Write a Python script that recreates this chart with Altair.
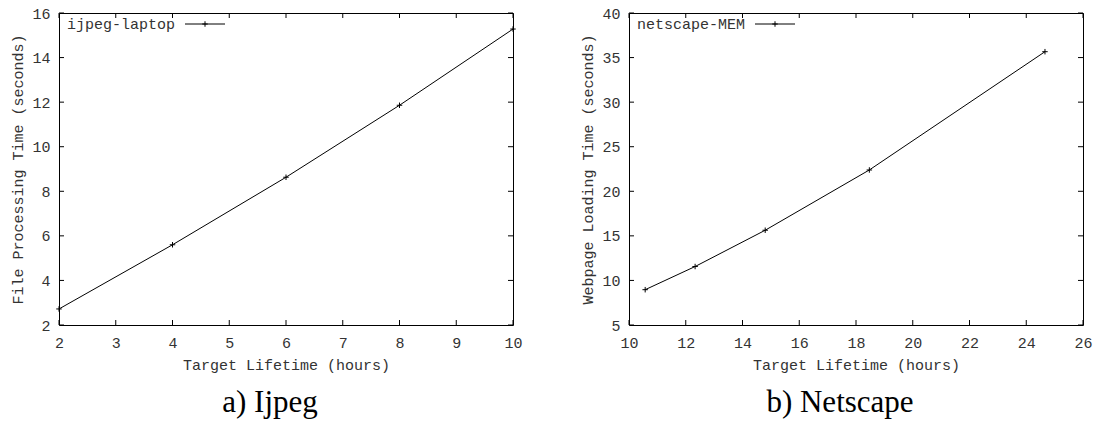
import altair as alt
import pandas as pd

# ---- data ----
ijpeg_lifetime = [2, 4, 6, 8, 10]
ijpeg_time = [2.72, 5.60, 8.63, 11.86, 15.28]

netscape_lifetime = [10.57, 12.33, 14.80, 18.47, 24.66]
netscape_time = [8.96, 11.56, 15.63, 22.39, 35.66]

ijpeg_xticks = [2, 3, 4, 5, 6, 7, 8, 9, 10]
ijpeg_yticks = [2, 4, 6, 8, 10, 12, 14, 16]
netscape_xticks = [10, 12, 14, 16, 18, 20, 22, 24, 26]
netscape_yticks = [5, 10, 15, 20, 25, 30, 35, 40]

# ---- styling ----
W, H = 454, 312
MONO = "Liberation Mono"
SERIF = "Liberation Serif"
TXT = "#333333"
TICK = 5
PLUS = "M-1,0L1,0M0,-1L0,1"


def panel(xs, ys, xticks, yticks, xtitle, ytitle, key, caption):
    xscale = alt.Scale(domain=[xticks[0], xticks[-1]], nice=False, zero=False)
    yscale = alt.Scale(domain=[yticks[0], yticks[-1]], nice=False, zero=False)
    df = pd.DataFrame({"x": xs, "y": ys})

    xaxis = alt.Axis(
        values=xticks, title=xtitle, format="d", domain=False, ticks=False,
        grid=False, labelPadding=10, labelFont=MONO, labelFontSize=15,
        labelColor=TXT, labelFlush=False, labelOverlap=False,
        titleFont=MONO, titleFontSize=15, titleFontWeight="normal",
        titleColor=TXT, titleBaseline="alphabetic", titleY=44,
    )
    yaxis = alt.Axis(
        values=yticks, title=ytitle, format="d", domain=False, ticks=False,
        grid=False, labelPadding=9, labelFont=MONO, labelFontSize=15,
        labelColor=TXT, labelFlush=False, labelOverlap=False,
        titleFont=MONO, titleFontSize=15, titleFontWeight="normal",
        titleColor=TXT, titleBaseline="alphabetic", titleX=-37, titleY=H / 2,
        titleAngle=270,
    )
    xenc = alt.X("x:Q", scale=xscale, axis=xaxis)
    yenc = alt.Y("y:Q", scale=yscale, axis=yaxis)

    base = alt.Chart(df).encode(x=xenc, y=yenc)
    line = base.mark_line(color="black", strokeWidth=1)
    pts = base.mark_point(shape=PLUS, size=30, color="black", filled=False,
                          strokeWidth=1, opacity=1)

    xt = pd.DataFrame({"x": xticks})
    yt = pd.DataFrame({"y": yticks})
    t_bottom = alt.Chart(xt).mark_rule(color="black").encode(
        x=xenc, y=alt.value(H), y2=alt.value(H - TICK))
    t_top = alt.Chart(xt).mark_rule(color="black").encode(
        x=xenc, y=alt.value(0), y2=alt.value(TICK))
    t_left = alt.Chart(yt).mark_rule(color="black").encode(
        y=yenc, x=alt.value(0), x2=alt.value(TICK))
    t_right = alt.Chart(yt).mark_rule(color="black").encode(
        y=yenc, x=alt.value(W), x2=alt.value(W - TICK))

    kdf = pd.DataFrame({"label": [key]})
    k_text = alt.Chart(kdf).mark_text(
        align="left", baseline="alphabetic", font=MONO, fontSize=15, color=TXT
    ).encode(text="label:N", x=alt.value(8), y=alt.value(16))
    k_line = alt.Chart(kdf).mark_rule(color="black", strokeWidth=1).encode(
        x=alt.value(126), x2=alt.value(166), y=alt.value(11))
    k_pt = alt.Chart(kdf).mark_point(
        shape=PLUS, size=30, color="black", filled=False, strokeWidth=1, opacity=1
    ).encode(x=alt.value(146), y=alt.value(11))

    cdf = pd.DataFrame({"cap": [caption]})
    cap = alt.Chart(cdf).mark_text(
        align="center", baseline="alphabetic", font=SERIF, fontSize=31, color="black"
    ).encode(text="cap:N", x=alt.value(211), y=alt.value(H + 87))

    return alt.layer(line, pts, t_bottom, t_top, t_left, t_right,
                     k_text, k_line, k_pt, cap).properties(width=W, height=H)


left = panel(ijpeg_lifetime, ijpeg_time, ijpeg_xticks, ijpeg_yticks,
             "Target Lifetime (hours)", "File Processing Time (seconds)",
             "ijpeg-laptop", "a) Ijpeg")
right = panel(netscape_lifetime, netscape_time, netscape_xticks, netscape_yticks,
              "Target Lifetime (hours)", "Webpage Loading Time (seconds)",
              "netscape-MEM", "b) Netscape")

chart = alt.hconcat(left, right, spacing=116, bounds="flush").properties(
    padding={"left": 9, "top": 5, "right": 0, "bottom": 0},
    background="white",
).configure_view(stroke="black", strokeWidth=1)

chart.save("out.html", embed_options={"renderer": "svg", "actions": False})
